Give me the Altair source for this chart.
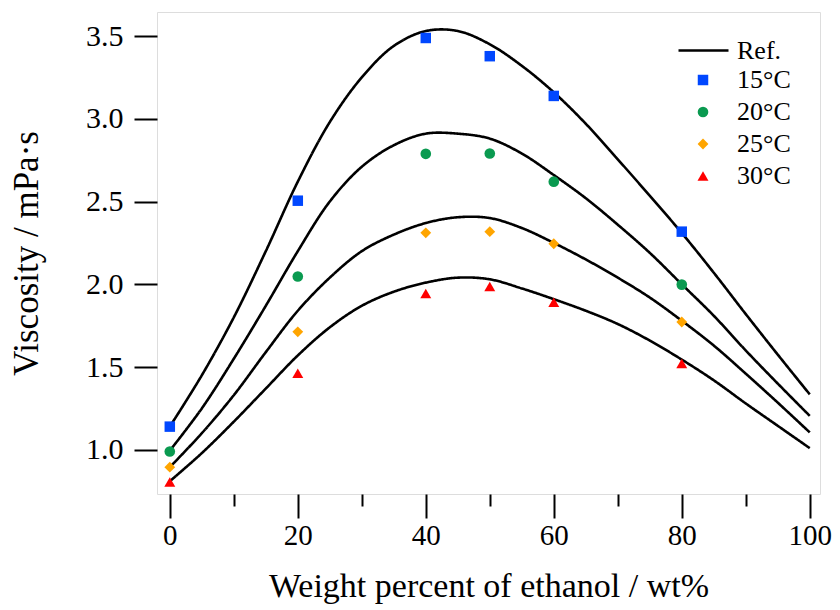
import altair as alt
import pandas as pd

# ---- data ----
ref_x = [0, 5, 10, 15, 20, 25, 30, 35, 40, 45, 50, 55, 60, 65, 70, 75, 80, 85, 90, 95, 100]
ref_15 = [1.14, 1.45, 1.80, 2.20, 2.62, 2.98, 3.25, 3.44, 3.53, 3.53, 3.45, 3.32, 3.16, 2.97, 2.755, 2.535, 2.31, 2.07, 1.82, 1.575, 1.335]
ref_20 = [0.995, 1.25, 1.55, 1.87, 2.20, 2.50, 2.71, 2.84, 2.91, 2.91, 2.88, 2.79, 2.66, 2.52, 2.36, 2.19, 2.00, 1.81, 1.60, 1.40, 1.205]
ref_25 = [0.895, 1.10, 1.33, 1.59, 1.84, 2.04, 2.20, 2.30, 2.37, 2.405, 2.40, 2.34, 2.25, 2.15, 2.04, 1.92, 1.78, 1.63, 1.46, 1.285, 1.105]
ref_30 = [0.81, 0.98, 1.17, 1.37, 1.57, 1.74, 1.87, 1.955, 2.01, 2.04, 2.03, 1.975, 1.91, 1.84, 1.76, 1.66, 1.545, 1.42, 1.28, 1.145, 1.01]

exp_x = [0, 20, 40, 50, 60, 80]
exp_15 = [1.14, 2.505, 3.488, 3.378, 3.138, 2.318]
exp_20 = [0.99, 2.047, 2.788, 2.79, 2.62, 1.998]
exp_25 = [0.895, 1.713, 2.311, 2.318, 2.245, 1.772]
exp_30 = [0.805, 1.462, 1.944, 1.986, 1.892, 1.522]

temps = ["15°C", "20°C", "25°C", "30°C"]
colors = ["#0047FF", "#0A9A50", "#FFA500", "#FF0000"]
shapes = ["square", "circle", "diamond", "triangle-up"]
sizes = [110, 120, 110, 150]

x_major = [0, 20, 40, 60, 80, 100]
x_minor = [10, 30, 50, 70, 90]
y_ticks = [1.0, 1.5, 2.0, 2.5, 3.0, 3.5]

FONT = "Liberation Serif"

ref_rows = []
for t, ys in zip(temps, [ref_15, ref_20, ref_25, ref_30]):
    for xv, yv in zip(ref_x, ys):
        ref_rows.append({"x": xv, "y": yv, "series": t, "ref": "Ref."})
ref_df = pd.DataFrame(ref_rows)

exp_rows = []
for t, ys in zip(temps, [exp_15, exp_20, exp_25, exp_30]):
    for xv, yv in zip(exp_x, ys):
        exp_rows.append({"x": xv, "y": yv, "temp": t})
exp_df = pd.DataFrame(exp_rows)

minor_df = pd.DataFrame({"x": x_minor})

xscale = alt.Scale(domain=[-2, 101.6], nice=False, zero=False)
yscale = alt.Scale(domain=[0.733, 3.645], nice=False, zero=False)

x_axis = alt.Axis(values=x_major, format="d", tickSize=24, tickWidth=2, tickColor="black",
                  domain=False, grid=False, labelFont=FONT, labelFontSize=29, labelColor="black",
                  labelPadding=3, title="Weight percent of ethanol / wt%", titleFont=FONT,
                  titleFontSize=34, titleFontWeight="normal", titleColor="black", titlePadding=19)
y_axis = alt.Axis(values=y_ticks, format=".1f", tickSize=23, tickWidth=2, tickColor="black",
                  domain=False, grid=False, labelFont=FONT, labelFontSize=30, labelColor="black",
                  labelPadding=11, title="Viscosity / mPa·s", titleFont=FONT,
                  titleFontSize=35, titleFontWeight="normal", titleColor="black", titlePadding=41)

lines = alt.Chart(ref_df).mark_line(interpolate="catmull-rom", color="black", strokeWidth=2.6).encode(
    x=alt.X("x:Q", scale=xscale, axis=x_axis),
    y=alt.Y("y:Q", scale=yscale, axis=y_axis),
    detail="series:N",
    strokeDash=alt.StrokeDash("ref:N", scale=alt.Scale(domain=["Ref."], range=[[1, 0]]),
                              legend=alt.Legend(title=None, orient="none", legendX=520, legendY=12,
                                                symbolType="stroke", symbolSize=2500,
                                                symbolStrokeColor="black", symbolStrokeWidth=2.6,
                                                labelFont=FONT, labelFontSize=26, labelColor="black",
                                                labelOffset=7, padding=0)),
)

leg = alt.Legend(title=None, orient="none", legendX=533, legendY=55, symbolSize=256,
                 symbolStrokeWidth=0, labelFont=FONT, labelFontSize=26, labelColor="black",
                 labelOffset=21, rowPadding=6, padding=0, symbolOpacity=1)

points = alt.Chart(exp_df).mark_point(filled=True, opacity=1).encode(
    x=alt.X("x:Q", scale=xscale, axis=None),
    y=alt.Y("y:Q", scale=yscale, axis=y_axis),
    color=alt.Color("temp:N", scale=alt.Scale(domain=temps, range=colors), legend=leg),
    shape=alt.Shape("temp:N", scale=alt.Scale(domain=temps, range=shapes), legend=leg),
    size=alt.Size("temp:N", scale=alt.Scale(domain=temps, range=sizes), legend=None),
)

minor = alt.Chart(minor_df).mark_point(opacity=0).encode(
    x=alt.X("x:Q", scale=xscale,
            axis=alt.Axis(values=x_minor, labels=False, tickSize=12, tickWidth=2, tickColor="black",
                          domain=False, grid=False, title=None, orient="bottom")),
    y=alt.value(0),
)

chart = alt.layer(lines, points, minor).resolve_axis(x="independent").properties(
    width=663, height=482,
    autosize=alt.AutoSizeParams(type="none"),
    padding={"left": 149, "top": 4, "right": 12, "bottom": 114},
).configure_view(stroke="black", strokeWidth=2.5).configure(background="white")

chart.save("out.html", embed_options={"renderer": "svg", "actions": False})
